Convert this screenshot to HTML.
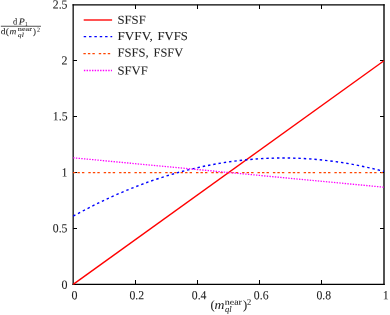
<!DOCTYPE html>
<html>
<head>
<meta charset="utf-8">
<style>
html,body{margin:0;padding:0;background:#fff;}
body{width:390px;height:315px;overflow:hidden;font-family:"Liberation Serif",serif;}
svg{display:block;filter:blur(0.35px);}
text{font-family:"Liberation Serif",serif;fill:#222;stroke:#222;stroke-width:0.06px;}
.t{font-size:12px;}
.i{font-style:italic;}
</style>
</head>
<body>
<svg width="390" height="315" viewBox="0 0 390 315">
<rect width="390" height="315" fill="#fff"/>
<!-- ticks -->
<g stroke="#000" stroke-width="1.02" fill="none">
<path d="M135.50 284.41V280.0M197.50 284.41V280.0M259.50 284.41V280.0M321.50 284.41V280.0"/>
<path d="M135.50 4.83V9.0M197.50 4.83V9.0M259.50 4.83V9.0M321.50 4.83V9.0"/>
<path d="M73.16 228.50H77.0M73.16 172.50H77.0M73.16 116.50H77.0M73.16 60.50H77.0"/>
<path d="M384.00 228.50H380.0M384.00 172.50H380.0M384.00 116.50H380.0M384.00 60.50H380.0"/>
</g>
<!-- frame -->
<g stroke="#000" fill="none" stroke-linecap="square">
<path d="M73.16 4.83H384" stroke-width="1.25"/>
<path d="M73.16 284.41H384" stroke-width="1.33"/>
<path d="M73.16 4.83V284.41" stroke-width="1.24"/>
<path d="M384 4.83V284.41" stroke-width="1.36"/>
</g>
<!-- curves -->
<path d="M73.20 284.40 L384.00 60.72" stroke="#ff0000" stroke-width="1.4" fill="none"/>
<path d="M73.20 216.18 Q228.60 130.06 384.00 171.44" stroke="#0000ff" stroke-width="1.4" fill="none" stroke-dasharray="2.45 2.9"/>
<path d="M72.95 172.56 L384.00 172.56" stroke="#ff4500" stroke-width="1.3" fill="none" stroke-dasharray="2.4 2.1 2.4 2.1 2.4 3.98"/>
<path d="M73.20 157.80 L384.00 187.20" stroke="#ff00ff" stroke-width="1.3" fill="none" stroke-dasharray="1.4 1.3"/>
<!-- legend -->
<path d="M83.7 20H112.1" stroke="#ff0000" stroke-width="1.36"/>
<path d="M83.7 36.6H112.2" stroke="#0000ff" stroke-width="1.4" stroke-dasharray="2.45 2.9"/>
<path d="M83.4 53.6H110.3" stroke="#ff4500" stroke-width="1.3" stroke-dasharray="2.4 2.1 2.4 2.1 2.4 3.98"/>
<path d="M83.9 70.5H112" stroke="#ff00ff" stroke-width="1.3" stroke-dasharray="1.4 1.3"/>
<g transform="rotate(0.03 195 157)">
<g font-size="12.2">
<text x="117.4" y="23.8" textLength="28.3" lengthAdjust="spacingAndGlyphs">SFSF</text>
<text x="117.5" y="40" textLength="35.2" lengthAdjust="spacingAndGlyphs">FVFV,</text>
<text x="157.4" y="40" textLength="30.3" lengthAdjust="spacingAndGlyphs">FVFS</text>
<text x="117.5" y="56.6" textLength="31.2" lengthAdjust="spacingAndGlyphs">FSFS,</text>
<text x="153.5" y="56.6" textLength="29.5" lengthAdjust="spacingAndGlyphs">FSFV</text>
<text x="117.4" y="74.6" textLength="30.3" lengthAdjust="spacingAndGlyphs">SFVF</text>
</g>
<!-- y tick labels -->
<g font-size="12" text-anchor="end" transform="scale(1,1.03)">
<text x="67.4" y="8.30" textLength="14.7" lengthAdjust="spacingAndGlyphs">2.5</text>
<text x="67.5" y="62.67" textLength="6.0" lengthAdjust="spacingAndGlyphs">2</text>
<text x="67.5" y="116.84" textLength="14.7" lengthAdjust="spacingAndGlyphs">1.5</text>
<text x="67.5" y="171.51" textLength="6.0" lengthAdjust="spacingAndGlyphs">1</text>
<text x="67.5" y="225.58" textLength="14.7" lengthAdjust="spacingAndGlyphs">0.5</text>
<text x="67.7" y="280.44" textLength="6.0" lengthAdjust="spacingAndGlyphs">0</text>
</g>
<!-- x tick labels -->
<g font-size="12" text-anchor="middle" transform="scale(1,1.03)">
<text x="74.7" y="290.54" textLength="6.0" lengthAdjust="spacingAndGlyphs">0</text>
<text x="136.9" y="290.54" textLength="14.7" lengthAdjust="spacingAndGlyphs">0.2</text>
<text x="199.2" y="290.54" textLength="14.7" lengthAdjust="spacingAndGlyphs">0.4</text>
<text x="261.3" y="290.54" textLength="14.7" lengthAdjust="spacingAndGlyphs">0.6</text>
<text x="323.9" y="290.54" textLength="14.7" lengthAdjust="spacingAndGlyphs">0.8</text>
<text x="385.8" y="290.54" textLength="6.0" lengthAdjust="spacingAndGlyphs">1</text>
</g>
<!-- x label -->
<g>
<text x="210.6" y="309" font-size="12.6">(</text>
<text x="214.5" y="309" font-size="12.6" class="i" textLength="9.9" lengthAdjust="spacingAndGlyphs">m</text>
<text x="224.8" y="304.7" font-size="8.6" textLength="17.2" lengthAdjust="spacingAndGlyphs">near</text>
<text x="225" y="312.1" font-size="8.5" class="i" textLength="6.6" lengthAdjust="spacingAndGlyphs">ql</text>
<text x="243" y="309" font-size="12.6">)</text>
<text x="247" y="304.8" font-size="8.4" textLength="4.2" lengthAdjust="spacingAndGlyphs">2</text>
</g>
<!-- y label -->
<g style="stroke-width:0.18px">
<text x="12.9" y="24.6" font-size="8.9" textLength="4.2" lengthAdjust="spacingAndGlyphs">d</text>
<text x="18.8" y="24.5" font-size="9.2" class="i" textLength="6" lengthAdjust="spacingAndGlyphs">P</text>
<text x="25" y="26" font-size="6" textLength="2.6" lengthAdjust="spacingAndGlyphs">1</text>
<path d="M0.8 26.35H40.9" stroke="#333" stroke-width="0.85"/>
<text x="0.8" y="34.3" font-size="8.8" textLength="8" lengthAdjust="spacingAndGlyphs">d(</text>
<text x="9.4" y="34.3" font-size="8.8" class="i" textLength="6.8" lengthAdjust="spacingAndGlyphs">m</text>
<text x="17.7" y="31.2" font-size="6.5" textLength="14.2" lengthAdjust="spacingAndGlyphs">near</text>
<text x="17.8" y="37.1" font-size="6" class="i" textLength="5.9" lengthAdjust="spacingAndGlyphs">ql</text>
<text x="32.9" y="34.3" font-size="8.8">)</text>
<text x="37" y="31.8" font-size="6.2" textLength="3" lengthAdjust="spacingAndGlyphs">2</text>
</g>
</g>
</svg>
</body>
</html>
